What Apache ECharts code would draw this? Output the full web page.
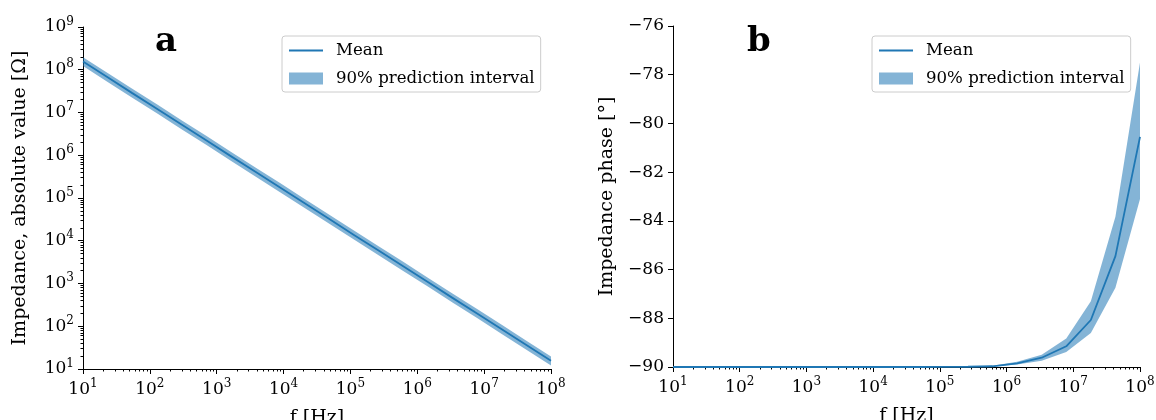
<!DOCTYPE html>
<html>
<head>
<meta charset="utf-8">
<script src="https://cdn.jsdelivr.net/npm/echarts@6/dist/echarts.min.js"></script>
<style>
  html, body { margin: 0; padding: 0; background: #fff; }
  #container { width: 1156px; height: 420px; }
</style>
</head>
<body>
<div id="container"></div>
<script>
var dom = document.getElementById("container");
var myChart = echarts.init(dom);

// frequencies [Hz]
var freq = [10, 23.36, 54.56, 127.4, 297.6, 695.2, 1624, 3793, 8859, 20691,
    48329, 112884, 263665, 615848, 1438450, 3359818, 7847600, 18329807, 42813324, 100000000];

// panel a: |Z| [Ohm]
var absMean = [1.55e8, 6.64e7, 2.84e7, 1.22e7, 5.21e6, 2.23e6, 9.54e5, 4.09e5, 1.75e5, 7.49e4,
    3.21e4, 1.37e4, 5.88e3, 2.52e3, 1.08e3, 461, 198, 84.6, 36.2, 15.5];
var absLow = [1.22e8, 5.20e7, 2.22e7, 9.55e6, 4.08e6, 1.75e6, 7.47e5, 3.20e5, 1.37e5, 5.87e4,
    2.51e4, 1.07e4, 4.60e3, 1.97e3, 846, 361, 155, 66.2, 28.3, 12.1];
var absHigh = [1.97e8, 8.45e7, 3.61e7, 1.55e7, 6.63e6, 2.84e6, 1.21e6, 5.20e5, 2.23e5, 9.53e4,
    4.08e4, 1.74e4, 7.48e3, 3.21e3, 1.37e3, 587, 252, 108, 46.1, 19.7];

// panel b: phase [deg]
var phMean = [-90, -90, -90, -90, -90, -90, -90, -90, -90, -90,
    -90, -89.995, -89.99, -89.97, -89.85, -89.62, -89.15, -88.07, -85.45, -80.55];
var phLow = [-90, -90, -90, -90, -90, -90, -90, -90, -90, -90,
    -90, -90, -89.995, -89.98, -89.9, -89.74, -89.38, -88.6, -86.75, -83.1];
var phHigh = [-90, -90, -90, -90, -90, -90, -90, -90, -90, -90,
    -89.995, -89.99, -89.98, -89.95, -89.78, -89.5, -88.83, -87.3, -83.83, -77.5];

var xTicks = [10, 100, 1000, 10000, 100000, 1000000, 10000000, 100000000];
var yTicksAbs = [10, 100, 1000, 10000, 100000, 1000000, 10000000, 100000000, 1000000000];

var FONT = 'DejaVu Serif';
var lineColor = '#1f77b4';
var bandColor = 'rgba(31,119,180,0.55)';

// minor tick positions for log axes (2..9 per decade)
function minorTicks(lo, hi) {
    var out = [];
    for (var d = lo; d < hi; d *= 10) {
        for (var k = 2; k <= 9; k++) out.push(d * k);
    }
    return out;
}

var powRich = {
    b: { fontFamily: FONT, fontSize: 17, color: '#000' },
    s: { fontFamily: FONT, fontSize: 12, color: '#000', padding: [0, 0, 11, 0] }
};
function powLabel(v) {
    return '{b|10}{s|' + Math.round(Math.log10(v)) + '}';
}

function bandRender(xs, lo, hi) {
    return function (params, api) {
        if (params.dataIndex !== 0) return;
        var pts = [];
        for (var i = 0; i < xs.length; i++) pts.push(api.coord([xs[i], hi[i]]));
        for (var j = xs.length - 1; j >= 0; j--) pts.push(api.coord([xs[j], lo[j]]));
        return {
            type: 'polygon',
            shape: { points: pts },
            style: { fill: bandColor }
        };
    };
}

var nameStyle = { fontFamily: FONT, fontSize: 19, color: '#000' };

function logXAxis(gridIndex) {
    return [{
        type: 'log', gridIndex: gridIndex, position: 'bottom', min: 10, max: 1e8, logBase: 10,
        name: 'f [Hz]', nameLocation: 'middle', nameGap: 40,
        nameTextStyle: nameStyle,
        axisLine: { show: true, lineStyle: { color: '#000', width: 1 } },
        axisTick: { show: true, inside: false, length: 5, lineStyle: { color: '#000' }, customValues: xTicks },
        axisLabel: { margin: 9, formatter: powLabel, rich: powRich, customValues: xTicks },
        splitLine: { show: false }
    }, {
        type: 'log', gridIndex: gridIndex, position: 'bottom', min: 10, max: 1e8, logBase: 10,
        axisLine: { show: false },
        axisTick: { show: true, length: 2.5, lineStyle: { color: '#000' }, customValues: minorTicks(10, 1e8) },
        axisLabel: { show: false },
        splitLine: { show: false }
    }];
}

var xAxes = logXAxis(0).concat(logXAxis(1));

var yAxes = [{
    type: 'log', gridIndex: 0, position: 'left', min: 10, max: 1e9, logBase: 10,
    name: 'Impedance, absolute value [Ω]', nameLocation: 'middle', nameGap: 53,
    nameTextStyle: nameStyle,
    axisLine: { show: true, lineStyle: { color: '#000', width: 1 } },
    axisTick: { show: true, length: 5, lineStyle: { color: '#000' }, customValues: yTicksAbs },
    axisLabel: { margin: 9, formatter: powLabel, rich: powRich, customValues: yTicksAbs },
    splitLine: { show: false }
}, {
    type: 'log', gridIndex: 0, position: 'left', min: 10, max: 1e9, logBase: 10,
    axisLine: { show: false },
    axisTick: { show: true, length: 2.5, lineStyle: { color: '#000' }, customValues: minorTicks(10, 1e9) },
    axisLabel: { show: false },
    splitLine: { show: false }
}, {
    type: 'value', gridIndex: 1, position: 'left', min: -90, max: -76, interval: 2,
    name: 'Impedance phase [°]', nameLocation: 'middle', nameGap: 56,
    nameTextStyle: nameStyle,
    axisLine: { show: true, lineStyle: { color: '#000', width: 1 } },
    axisTick: { show: true, length: 5, lineStyle: { color: '#000' } },
    axisLabel: {
        margin: 9, fontFamily: FONT, fontSize: 17, color: '#000',
        formatter: function (v) { return String(v).replace('-', '\u2212'); }
    },
    splitLine: { show: false }
}];

function pairs(xs, ys) {
    return xs.map(function (x, i) { return [x, ys[i]]; });
}

var legendBase = {
    orient: 'vertical', top: 36,
    borderColor: '#ccc', borderWidth: 1, borderRadius: 3,
    padding: [6, 6, 5, 6], itemGap: 11, itemWidth: 34, itemHeight: 12,
    textStyle: { fontFamily: FONT, fontSize: 16.6, color: '#000', padding: [0, 0, 0, 8] },
    data: [
        { name: 'Mean', itemStyle: { opacity: 0 } },
        { name: '90% prediction interval', icon: 'rect' }
    ]
};

var option = {
    backgroundColor: '#fff',
    animation: false,
    grid: [
        { left: 83, top: 27, width: 468, height: 342, outerBoundsMode: 'none', containLabel: false },
        { left: 673, top: 26, width: 467, height: 341, outerBoundsMode: 'none', containLabel: false }
    ],
    title: [
        { text: 'a', left: 150, top: 20, textStyle: { fontFamily: FONT, fontSize: 34, fontWeight: 'bold', color: '#000' } },
        { text: 'b', left: 742, top: 20, textStyle: { fontFamily: FONT, fontSize: 34, fontWeight: 'bold', color: '#000' } }
    ],
    legend: [
        Object.assign({}, legendBase, { left: 282 }),
        Object.assign({}, legendBase, { left: 872 })
    ],
    xAxis: xAxes,
    yAxis: yAxes,
    series: [{
        name: '90% prediction interval', type: 'custom', xAxisIndex: 0, yAxisIndex: 0,
        z: 1, clip: true,
        itemStyle: { color: bandColor },
        renderItem: bandRender(freq, absLow, absHigh),
        data: pairs(freq, absMean)
    }, {
        name: 'Mean', type: 'line', xAxisIndex: 0, yAxisIndex: 0,
        symbol: 'none', z: 3,
        lineStyle: { color: lineColor, width: 1.8 },
        itemStyle: { color: lineColor },
        data: pairs(freq, absMean)
    }, {
        name: '90% prediction interval', type: 'custom', xAxisIndex: 2, yAxisIndex: 2,
        z: 1, clip: true,
        itemStyle: { color: bandColor },
        renderItem: bandRender(freq, phLow, phHigh),
        data: pairs(freq, phMean)
    }, {
        name: 'Mean', type: 'line', xAxisIndex: 2, yAxisIndex: 2,
        symbol: 'none', z: 3,
        lineStyle: { color: lineColor, width: 1.8 },
        itemStyle: { color: lineColor },
        data: pairs(freq, phMean)
    }]
};

myChart.setOption(option, true);
</script>
</body>
</html>
